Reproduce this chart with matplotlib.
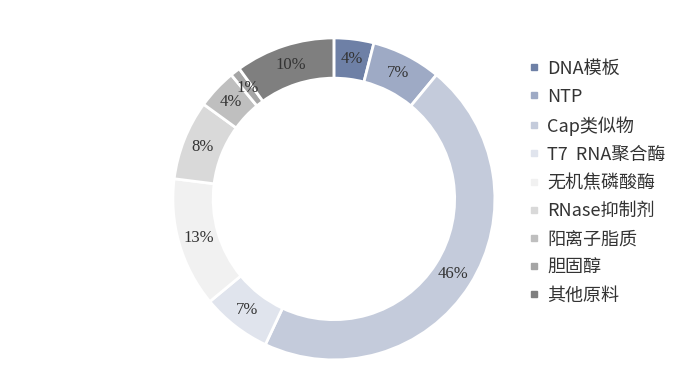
import matplotlib
matplotlib.use("Agg")
import matplotlib.pyplot as plt
from matplotlib.lines import Line2D
import numpy as np

plt.rcParams['font.family'] = ['Noto Sans CJK SC', 'DejaVu Sans']

labels = ['DNA模板', 'NTP', 'Cap类似物', 'T7  RNA聚合酶', '无机焦磷酸酶',
          'RNase抑制剂', '阳离子脂质', '胆固醇', '其他原料']
shares = [4, 7, 46, 7, 13, 8, 4, 1, 10]
colors = ['#6e80a6', '#9eaac5', '#c4cbdb', '#e0e4ed', '#f1f1f1',
          '#d9d9d9', '#bfbfbf', '#a5a5a5', '#7f7f7f']

fig = plt.figure(figsize=(7, 3.87), dpi=100)
ax = fig.add_axes([0.247, 0.070, 0.46, 0.832])

wedges, texts = ax.pie(shares, colors=colors, startangle=90, counterclock=False,
                       radius=1.0,
                       wedgeprops=dict(width=0.25, edgecolor='white', linewidth=2))

# percentage labels in the middle of the ring
for w, s in zip(wedges, shares):
    mid = np.deg2rad((w.theta1 + w.theta2) / 2)
    r = 0.875
    ax.text(r * np.cos(mid), r * np.sin(mid), f'{s}%', ha='center', va='center',
            fontsize=12, color='#333333', family=['Liberation Serif', 'DejaVu Serif'])

ax.set_xlim(-1, 1)
ax.set_ylim(-1, 1)
ax.set_aspect('equal')
ax.axis('off')

handles = [Line2D([0], [0], marker='s', linestyle='none', markersize=4.5,
                  markerfacecolor=c, markeredgecolor=c) for c in colors]
fig.legend(handles, labels, loc='upper left', bbox_to_anchor=(0.757, 0.846),
           frameon=False, fontsize=13, labelcolor='#333333',
           handlelength=0.5, handletextpad=0.45, labelspacing=0.565,
           borderaxespad=0, borderpad=0)

fig.savefig('out.png', dpi=100, facecolor='white')
